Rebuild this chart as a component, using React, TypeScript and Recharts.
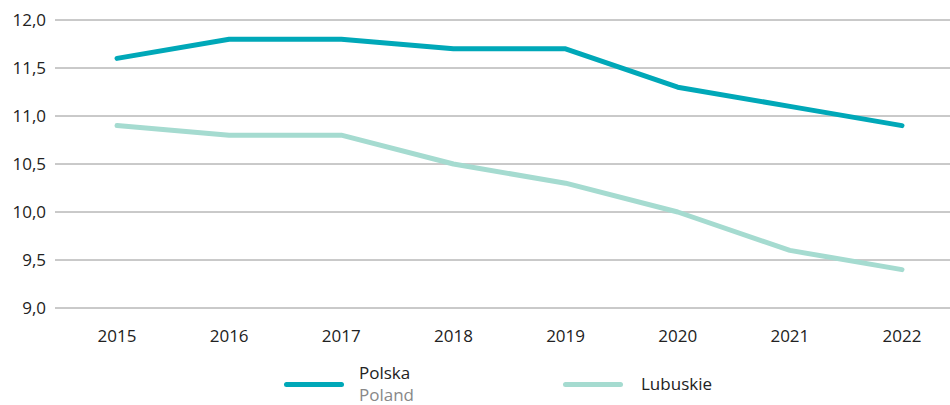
import React from "react";
import { LineChart, Line, XAxis, YAxis, CartesianGrid, Legend } from "recharts";

const years = ["2015", "2016", "2017", "2018", "2019", "2020", "2021", "2022"];
const polska = [11.6, 11.8, 11.8, 11.7, 11.7, 11.3, 11.1, 10.9];
const lubuskie = [10.9, 10.8, 10.8, 10.5, 10.3, 10.0, 9.6, 9.4];
const yTicks = [9.0, 9.5, 10.0, 10.5, 11.0, 11.5, 12.0];

const data = years.map((y, i) => ({ year: y, polska: polska[i], lubuskie: lubuskie[i] }));

const FONT = "'Open Sans', 'Noto Sans', sans-serif";
const C_POL = "#00A8B8";
const C_LUB = "#A5DBD0";

const LegendContent = () => (
  <div style={{ position: "relative", height: 60, fontFamily: FONT, fontSize: 17 }}>
    <div style={{ position: "absolute", left: 284, top: 34, width: 60, height: 5, borderRadius: 3, background: C_POL }} />
    <div style={{ position: "absolute", left: 359, top: 14, color: "#222", lineHeight: "22px" }}>Polska</div>
    <div style={{ position: "absolute", left: 359, top: 36, color: "#888", lineHeight: "22px" }}>Poland</div>
    <div style={{ position: "absolute", left: 563, top: 34, width: 60, height: 5, borderRadius: 3, background: C_LUB }} />
    <div style={{ position: "absolute", left: 641, top: 25, color: "#222", lineHeight: "22px" }}>Lubuskie</div>
  </div>
);

export default function App() {
  return (
    <div style={{ position: "absolute", left: 0, top: 0, width: 950, height: 405, background: "#fff" }}>
      <LineChart width={950} height={405} data={data} margin={{ top: 20, right: 0, left: 0, bottom: 0 }}>
        <CartesianGrid vertical={false} stroke="#949494" strokeWidth={1} />
        <XAxis
          dataKey="year"
          axisLine={false}
          tickLine={false}
          padding={{ left: 62, right: 48 }}
          tick={{ fill: "#222", fontSize: 17, fontFamily: FONT }}
          tickMargin={16}
          height={40}
          interval={0}
        />
        <YAxis
          domain={[9, 12]}
          ticks={yTicks}
          axisLine={false}
          tickLine={false}
          width={55}
          tickSize={0}
          tickMargin={9}
          tickFormatter={(v: number) => v.toFixed(1).replace(".", ",")}
          tick={{ fill: "#222", fontSize: 17, fontFamily: FONT }}
        />
        <Legend verticalAlign="bottom" height={57} content={() => <LegendContent />} />
        <Line dataKey="polska" stroke={C_POL} strokeWidth={5} dot={false} isAnimationActive={false} strokeLinejoin="round" strokeLinecap="round" />
        <Line dataKey="lubuskie" stroke={C_LUB} strokeWidth={5} dot={false} isAnimationActive={false} strokeLinejoin="round" strokeLinecap="round" />
      </LineChart>
    </div>
  );
}
